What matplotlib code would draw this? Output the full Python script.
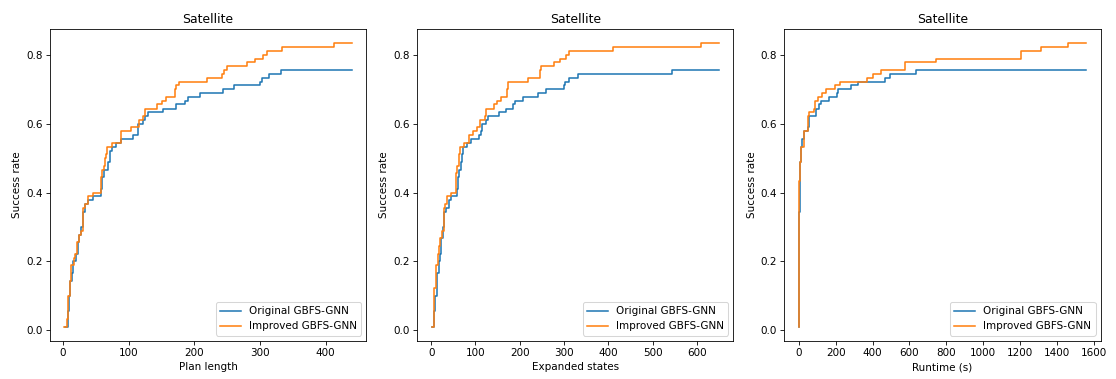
import matplotlib
matplotlib.use("Agg")
import matplotlib.pyplot as plt

# Plan length
plan_orig_x = [3, 8, 9, 11, 13, 15, 19, 22, 25, 28, 30, 34, 38, 45, 58, 59, 63, 68, 71, 75, 80, 88,
               107, 114, 122, 125, 129, 152, 172, 186, 190, 208, 243, 261, 300, 303, 313, 332, 440]
plan_orig_y = [0.011, 0.056, 0.1, 0.144, 0.167, 0.2, 0.222, 0.256, 0.278, 0.3, 0.344, 0.367, 0.378,
               0.389, 0.411, 0.444, 0.467, 0.489, 0.522, 0.533, 0.544, 0.556, 0.567, 0.6, 0.611,
               0.622, 0.633, 0.644, 0.656, 0.667, 0.678, 0.689, 0.7, 0.711, 0.722, 0.733, 0.744,
               0.756, 0.756]
plan_impr_x = [2, 6, 8, 10, 12, 16, 18, 21, 24, 27, 30, 34, 38, 45, 58, 60, 62, 64, 66, 67, 75, 88,
               104, 115, 122, 125, 143, 150, 157, 170, 172, 176, 220, 242, 245, 249, 280, 292, 305,
               311, 333, 412, 440]
plan_impr_y = [0.011, 0.033, 0.1, 0.144, 0.189, 0.211, 0.222, 0.256, 0.278, 0.289, 0.356, 0.367,
               0.389, 0.4, 0.444, 0.467, 0.478, 0.5, 0.511, 0.533, 0.544, 0.578, 0.589, 0.611, 0.622,
               0.644, 0.656, 0.667, 0.678, 0.7, 0.711, 0.722, 0.733, 0.744, 0.756, 0.767, 0.778,
               0.789, 0.8, 0.811, 0.822, 0.833, 0.833]

# Expanded states
exp_orig_x = [1, 6, 9, 14, 17, 19, 23, 26, 30, 34, 40, 45, 59, 60, 64, 67, 70, 72, 81, 90, 109,
              112, 114, 124, 128, 153, 169, 184, 190, 207, 241, 260, 299, 303, 311, 331, 544, 650]
exp_orig_y = [0.011, 0.056, 0.1, 0.167, 0.2, 0.222, 0.267, 0.3, 0.344, 0.356, 0.378, 0.389, 0.411,
              0.444, 0.467, 0.489, 0.511, 0.533, 0.544, 0.556, 0.567, 0.578, 0.6, 0.611, 0.622,
              0.633, 0.644, 0.656, 0.667, 0.678, 0.689, 0.7, 0.711, 0.722, 0.733, 0.744, 0.756,
              0.756]
exp_impr_x = [3, 7.5, 11, 15, 18, 21, 25, 28.6, 32, 35, 44, 56.5, 59, 62, 65.5, 75, 86.5, 94, 103,
              111, 121, 123, 141, 148, 158, 171, 173, 218, 245, 248, 278, 291, 305, 312, 410, 610, 650]
exp_impr_y = [0.011, 0.122, 0.189, 0.222, 0.244, 0.267, 0.289, 0.356, 0.367, 0.389, 0.4, 0.456,
              0.478, 0.511, 0.533, 0.544, 0.567, 0.578, 0.589, 0.611, 0.622, 0.644, 0.656, 0.667,
              0.678, 0.7, 0.722, 0.733, 0.756, 0.767, 0.778, 0.789, 0.8, 0.811, 0.822, 0.833, 0.833]

# Runtime
run_orig_x = [0, 0, 4, 6, 8, 12, 18, 29, 49, 58, 94, 108, 118, 163, 205, 214, 281, 322, 466, 493,
              638, 1560]
run_orig_y = [0.011, 0.344, 0.356, 0.444, 0.489, 0.533, 0.556, 0.578, 0.589, 0.622, 0.644, 0.656,
              0.667, 0.678, 0.689, 0.7, 0.711, 0.722, 0.733, 0.744, 0.756, 0.756]
run_impr_x = [0, 1, 3, 5, 8, 14, 29, 49, 52, 54, 82, 87, 103, 127, 150, 196, 221, 368, 402, 448,
              576, 746, 1205, 1314, 1462, 1560]
run_impr_y = [0.011, 0.378, 0.433, 0.467, 0.489, 0.533, 0.578, 0.589, 0.622, 0.633, 0.644, 0.667,
              0.678, 0.689, 0.7, 0.711, 0.722, 0.733, 0.744, 0.756, 0.778, 0.789, 0.811, 0.822,
              0.833, 0.833]

panels = [
    ("Plan length", plan_orig_x, plan_orig_y, plan_impr_x, plan_impr_y),
    ("Expanded states", exp_orig_x, exp_orig_y, exp_impr_x, exp_impr_y),
    ("Runtime (s)", run_orig_x, run_orig_y, run_impr_x, run_impr_y),
]

fig, axes = plt.subplots(1, 3, figsize=(15, 379 / 74.4), dpi=74.4)
fig.subplots_adjust(left=0.0448, right=0.9863, top=0.9227, bottom=0.101, wspace=0.161)

for ax, (xlabel, ox, oy, ix, iy) in zip(axes, panels):
    ax.step(ox, oy, where="post", label="Original GBFS-GNN")
    ax.step(ix, iy, where="post", label="Improved GBFS-GNN")
    ax.set_title("Satellite")
    ax.set_xlabel(xlabel)
    ax.set_ylabel("Success rate")
    ax.legend(loc="lower right")

fig.savefig("out.png", dpi=74.4)
